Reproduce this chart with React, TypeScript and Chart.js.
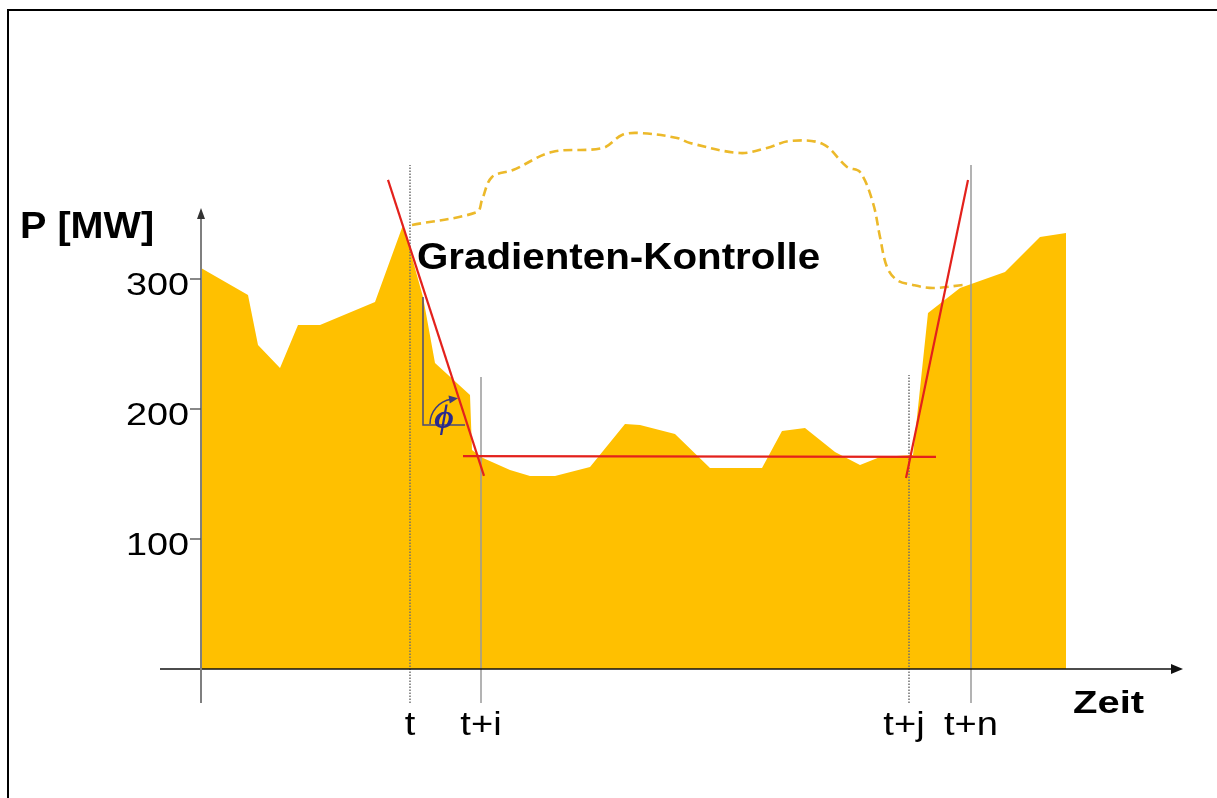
import React, { useEffect, useRef } from 'react';
import { Chart, registerables } from 'chart.js';

Chart.register(...registerables);

// ---- data (time in arbitrary units, power in MW) ----
const AREA_T = [0, 4.7, 5.7, 7.9, 9.7, 11.9, 17.4, 20.2, 22.2, 23.4, 26.9, 27.1, 28.2, 30.9, 32.9, 35.4, 38.9, 42.4, 43.9, 47.4, 50.9, 56.1, 58.1, 60.4, 63.4, 65.9, 67.9, 71.2, 72.7, 75.9, 80.4, 83.9, 86.5];
const AREA_P = [308.5, 287.7, 249.2, 231.5, 264.6, 264.6, 282.3, 341.5, 286.2, 235.4, 210.8, 168.5, 162.3, 153.1, 148.5, 148.5, 155.4, 188.5, 187.7, 180.8, 154.6, 154.6, 183.1, 185.4, 166.9, 156.9, 163.1, 164.6, 273.8, 293.1, 305.4, 332.3, 335.4];

const PLAN_T = [21.1, 27.6, 28.1, 29.1, 31.2, 35.1, 40.2, 42.1, 43.9, 47.6, 48.9, 53.9, 56.6, 58.9, 62.2, 64.6, 65.9, 67.2, 67.9, 68.6, 69.6, 71.2, 73.2, 76.2];
const PLAN_P = [341.5, 351.5, 360.8, 378.5, 383.8, 397.7, 400.8, 410.8, 412.3, 408.5, 404.6, 396.9, 400.8, 406.2, 403.8, 386.2, 382.3, 358.5, 332.3, 309.2, 299.2, 295.4, 293.1, 295.4];

const DOWN_T = [18.7, 28.3];
const DOWN_P = [376.2, 148.5];
const FLAT_T = [26.2, 73.5];
const FLAT_P = [163.8, 163.1];
const UP_T = [70.5, 76.7];
const UP_P = [146.9, 376.2];

const MARK_T = [20.9, 28.0, 70.8, 77.0];
const MARK_TOP = [387.7, 224.6, 226.2, 387.7];
const MARK_BOTTOM = -26.2;
const MARK_LABELS = ['t', 't+i', 't+j', 't+n'];

const ANGLE_T = [22.2, 22.2, 26.4];
const ANGLE_P = [286.2, 187.7, 187.7];

const Y_TICKS = [100, 200, 300];
const Y_ARROW_TOP = 354.6;

const X_MIN = -4.1;
const X_MAX = 98.2;
const Y_MIN = -30;
const Y_MAX = 440;

const pts = (xs: number[], ys: number[]) => xs.map((x, i) => ({ x, y: ys[i] }));

function stretchText(ctx: CanvasRenderingContext2D, text: string, x: number, y: number, font: string, sx: number, align: CanvasTextAlign, baseline: CanvasTextBaseline = 'alphabetic') {
  ctx.save();
  ctx.font = font;
  ctx.textAlign = align;
  ctx.textBaseline = baseline;
  ctx.translate(x, y);
  ctx.scale(sx, 1);
  ctx.fillText(text, 0, 0);
  ctx.restore();
}

const overlay = {
  id: 'overlay',
  afterDatasetsDraw(chart: any) {
    const ctx: CanvasRenderingContext2D = chart.ctx;
    const xs = chart.scales.x;
    const ys = chart.scales.y;
    const X = (v: number) => xs.getPixelForValue(v);
    const Y = (v: number) => ys.getPixelForValue(v);
    const FONT = '"Liberation Sans", Arial, sans-serif';
    ctx.save();

    // x axis with arrow
    const xEnd = X(X_MAX);
    ctx.strokeStyle = '#111';
    ctx.lineWidth = 1.6;
    ctx.beginPath();
    ctx.moveTo(X(X_MIN), Y(0));
    ctx.lineTo(xEnd - 8, Y(0));
    ctx.stroke();
    ctx.fillStyle = '#111';
    ctx.beginPath();
    ctx.moveTo(xEnd, Y(0));
    ctx.lineTo(xEnd - 12, Y(0) - 5);
    ctx.lineTo(xEnd - 12, Y(0) + 5);
    ctx.closePath();
    ctx.fill();

    // y axis with arrow
    const yTop = Y(Y_ARROW_TOP);
    ctx.strokeStyle = '#7f7f7f';
    ctx.lineWidth = 2;
    ctx.beginPath();
    ctx.moveTo(X(0), Y(MARK_BOTTOM));
    ctx.lineTo(X(0), yTop + 6);
    ctx.stroke();
    ctx.fillStyle = '#333';
    ctx.beginPath();
    ctx.moveTo(X(0), yTop);
    ctx.lineTo(X(0) - 4, yTop + 11);
    ctx.lineTo(X(0) + 4, yTop + 11);
    ctx.closePath();
    ctx.fill();

    // y ticks and labels
    ctx.strokeStyle = '#555';
    ctx.lineWidth = 1.4;
    ctx.fillStyle = '#000';
    Y_TICKS.forEach((t) => {
      ctx.beginPath();
      ctx.moveTo(X(0) - 11, Y(t));
      ctx.lineTo(X(0), Y(t));
      ctx.stroke();
      stretchText(ctx, String(t), X(0) - 12, Y(t) + 7, `31px ${FONT}`, 1.22, 'right', 'middle');
    });

    // marker labels
    MARK_LABELS.forEach((lab, i) => {
      const dx = i === 2 ? -5 : 0;
      stretchText(ctx, lab, X(MARK_T[i]) + dx, Y(-50.8), `34px ${FONT}`, 1.12, 'center');
    });

    // axis titles
    stretchText(ctx, 'P [MW]', X(-18.1), Y(331.5), `bold 36px ${FONT}`, 1.1, 'left');
    stretchText(ctx, 'Zeit', X(87.2), Y(-33.8), `bold 32px ${FONT}`, 1.25, 'left');
    stretchText(ctx, 'Gradienten-Kontrolle', X(21.6), Y(307.7), `bold 36px ${FONT}`, 1.12, 'left');

    // angle arc with arrow
    const cx = X(25.4);
    const cy = Y(188.5);
    const r = 25;
    const a0 = Math.PI;
    const a1 = Math.PI * 1.45;
    ctx.strokeStyle = '#3a3a80';
    ctx.lineWidth = 1.5;
    ctx.beginPath();
    ctx.arc(cx, cy, r, a0, a1);
    ctx.stroke();
    const ex = cx + r * Math.cos(a1);
    const ey = cy + r * Math.sin(a1);
    const tx = -Math.sin(a1);
    const ty = Math.cos(a1);
    const nx = -ty;
    const ny = tx;
    ctx.fillStyle = '#3a3a80';
    ctx.beginPath();
    ctx.moveTo(ex + tx * 7, ey + ty * 7);
    ctx.lineTo(ex - tx * 2 + nx * 4, ey - ty * 2 + ny * 4);
    ctx.lineTo(ex - tx * 2 - nx * 4, ey - ty * 2 - ny * 4);
    ctx.closePath();
    ctx.fill();

    // phi symbol
    ctx.fillStyle = '#2a2a8c';
    ctx.font = 'italic bold 34px "Liberation Serif", "DejaVu Serif", serif';
    ctx.textAlign = 'center';
    ctx.textBaseline = 'middle';
    ctx.fillText('\u03D5', X(24.3), Y(192));

    ctx.restore();
  },
};

export default function App() {
  const ref = useRef<HTMLCanvasElement | null>(null);

  useEffect(() => {
    if (!ref.current) return;
    const verticals = MARK_T.map((t, i) => ({
      data: pts([t, t], [MARK_BOTTOM, MARK_TOP[i]]),
      borderColor: i % 2 === 0 ? '#6f6f6f' : '#9a9a9a',
      borderWidth: 1.5,
      borderDash: i % 2 === 0 ? [1.5, 1.5] : [],
      pointRadius: 0,
      fill: false,
      order: 4,
      clip: false as any,
    }));
    const red = (xs: number[], ys: number[]) => ({
      data: pts(xs, ys),
      borderColor: '#e3211c',
      borderWidth: 2.2,
      pointRadius: 0,
      fill: false,
      order: 1,
      clip: false as any,
    });
    const chart = new Chart(ref.current, {
      type: 'line',
      data: {
        datasets: [
          {
            data: pts(AREA_T, AREA_P),
            borderWidth: 0,
            borderColor: 'rgba(0,0,0,0)',
            backgroundColor: '#ffc000',
            fill: 'origin',
            pointRadius: 0,
            tension: 0,
            order: 10,
            clip: false as any,
          },
          {
            data: pts(PLAN_T, PLAN_P),
            borderColor: '#ecb92a',
            borderWidth: 2.6,
            borderDash: [9, 5],
            pointRadius: 0,
            fill: false,
            tension: 0.35,
            order: 6,
            clip: false as any,
          },
          ...verticals,
          {
            data: pts(ANGLE_T, ANGLE_P),
            borderColor: '#4a4a7a',
            borderWidth: 1.5,
            pointRadius: 0,
            fill: false,
            order: 3,
            clip: false as any,
          },
          red(DOWN_T, DOWN_P),
          red(FLAT_T, FLAT_P),
          red(UP_T, UP_P),
        ],
      },
      options: {
        animation: false,
        responsive: false,
        maintainAspectRatio: false,
        layout: { padding: { left: 150, right: 26, top: 87, bottom: 82 } },
        scales: {
          x: { type: 'linear', min: X_MIN, max: X_MAX, display: false },
          y: { type: 'linear', min: Y_MIN, max: Y_MAX, display: false },
        },
        plugins: { legend: { display: false }, tooltip: { enabled: false } },
        elements: { point: { radius: 0 } },
      },
      plugins: [overlay],
    });
    return () => chart.destroy();
  }, []);

  return (
    <div>
      <div style={{ position: 'absolute', left: 7, top: 9, right: 0, bottom: 0, borderTop: '2px solid #000', borderLeft: '2px solid #000' }} />
      <canvas ref={ref} width={1199} height={780} style={{ position: 'absolute', left: 10, top: 10, display: 'block', width: 1199, height: 780 }} />
    </div>
  );
}
